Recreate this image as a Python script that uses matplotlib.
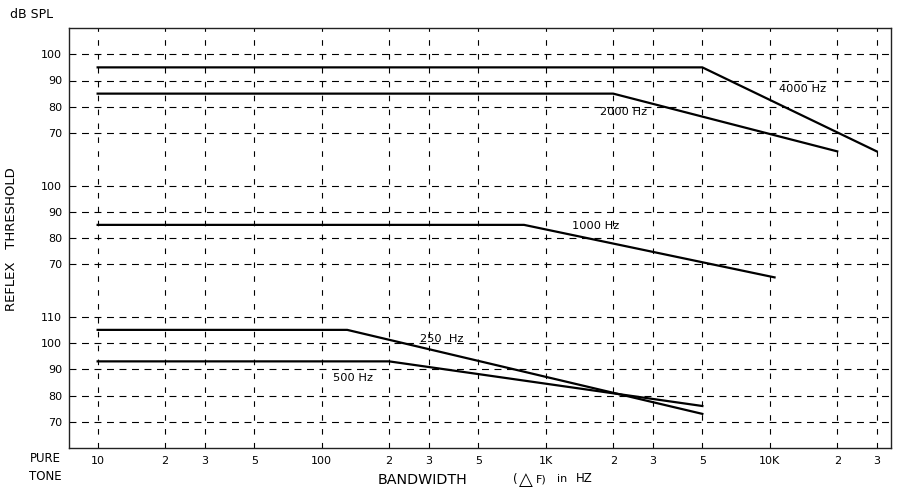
import matplotlib
matplotlib.use('Agg')
import matplotlib.pyplot as plt
from matplotlib.ticker import FixedLocator, NullLocator

# Eje X: ancho de banda (Hz), escala logaritmica
x_ticks = [10, 20, 30, 50, 100, 200, 300, 500, 1000, 2000, 3000, 5000, 10000, 20000, 30000]
x_tick_labels = ['10', '2', '3', '5', '100', '2', '3', '5', '1K', '2', '3', '5', '10K', '2', '3']

# Tres paneles apilados en un solo eje: cada uno desplazado en dB
offset_top = 110
offset_middle = 60
offset_bottom = 0
top_levels = [70, 80, 90, 100]
middle_levels = [70, 80, 90, 100]
bottom_levels = [70, 80, 90, 100, 110]

# Curvas: ancho de banda (Hz) y umbral del reflejo (dB SPL)
bw_4000 = [10, 5000, 30000]
db_4000 = [95, 95, 63]
bw_2000 = [10, 2000, 20000]
db_2000 = [85, 85, 63]
bw_1000 = [10, 800, 10500]
db_1000 = [85, 85, 65]
bw_250 = [10, 130, 5000]
db_250 = [105, 105, 73]
bw_500 = [10, 200, 5000]
db_500 = [93, 93, 76]

plt.rcParams['font.family'] = 'DejaVu Sans'
plt.rcParams['lines.scale_dashes'] = False

fig = plt.figure(figsize=(9, 4.99), dpi=100)
ax = fig.add_axes([69 / 900, 51 / 499, 822 / 900, 420 / 499])

ax.set_xscale('log')
ax.set_xlim(7.45, 34750)
ax.set_ylim(60, 220)

# Posiciones y etiquetas de Y
y_pos = ([v + offset_bottom for v in bottom_levels] +
         [v + offset_middle for v in middle_levels] +
         [v + offset_top for v in top_levels])
y_labels = [str(v) for v in bottom_levels + middle_levels + top_levels]

ax.xaxis.set_major_locator(FixedLocator(x_ticks))
ax.xaxis.set_minor_locator(NullLocator())
ax.set_xticklabels(x_tick_labels)
ax.set_yticks(y_pos)
ax.set_yticklabels(y_labels)
ax.tick_params(length=0, labelsize=8, colors='black')
ax.tick_params(axis='x', pad=6)
ax.tick_params(axis='y', pad=5)

# Rejilla punteada
for y in y_pos:
    ax.axhline(y, color='black', lw=0.8, linestyle=(0, (5, 4)), zorder=1)
for x in x_ticks:
    ax.axvline(x, color='black', lw=0.8, linestyle=(0, (4, 6)), zorder=1)

for s in ax.spines.values():
    s.set_linewidth(1.0)
    s.set_color('#222222')

# Curvas
ax.plot(bw_4000, [v + offset_top for v in db_4000], color='black', lw=1.6, zorder=3)
ax.plot(bw_2000, [v + offset_top for v in db_2000], color='black', lw=1.6, zorder=3)
ax.plot(bw_1000, [v + offset_middle for v in db_1000], color='black', lw=1.6, zorder=3)
ax.plot(bw_250, [v + offset_bottom for v in db_250], color='black', lw=1.6, zorder=3)
ax.plot(bw_500, [v + offset_bottom for v in db_500], color='black', lw=1.6, zorder=3)

# Etiquetas de las curvas
ax.text(11000, 86.8 + offset_top, '4000 Hz', fontsize=8.2, va='center', ha='left')
ax.text(1745, 78 + offset_top, '2000 Hz', fontsize=8.2, va='center', ha='left')
ax.text(1310, 84.6 + offset_middle, '1000 Hz', fontsize=8.2, va='center', ha='left')
ax.text(275, 101.5 + offset_bottom, '250  Hz', fontsize=8.2, va='center', ha='left')
ax.text(112, 86.7 + offset_bottom, '500 Hz', fontsize=8.2, va='center', ha='left')

# Textos fuera del eje
fig.text(10 / 900, 1 - 14 / 499, 'dB SPL', fontsize=9, va='center', ha='left')
fig.text(12 / 900, 1 - 239 / 499, 'REFLEX   THRESHOLD', fontsize=9.5, rotation=90,
         va='center', ha='center')
fig.text(45 / 900, 1 - 459 / 499, 'PURE', fontsize=8.5, va='center', ha='center')
fig.text(45 / 900, 1 - 476 / 499, 'TONE', fontsize=8.5, va='center', ha='center')
fig.text(378 / 900, 1 - 480 / 499, 'BANDWIDTH', fontsize=10.3, va='center', ha='left')
fig.text(513 / 900, 1 - 479 / 499, '(', fontsize=8.5, va='center', ha='left')
fig.text(519 / 900, 1 - 480 / 499, '△', fontsize=13, va='center', ha='left')
fig.text(536 / 900, 1 - 479 / 499, 'F)', fontsize=8, va='center', ha='left')
fig.text(557 / 900, 1 - 479 / 499, 'in', fontsize=8, va='center', ha='left')
fig.text(576 / 900, 1 - 479 / 499, 'HZ', fontsize=8.5, va='center', ha='left')

plt.savefig('out.png', dpi=100)
